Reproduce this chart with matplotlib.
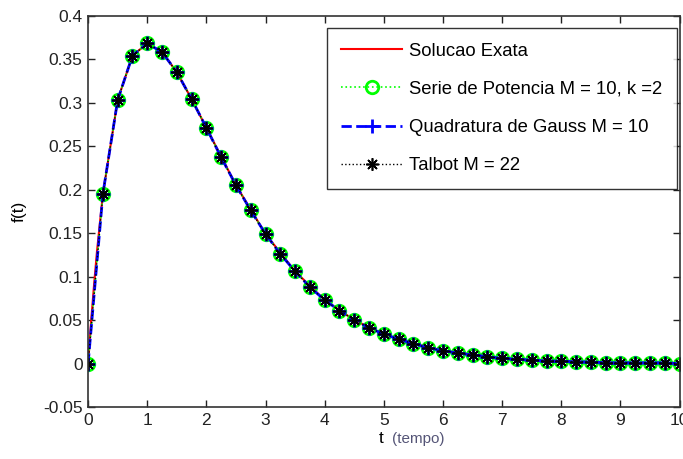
import numpy as np
import matplotlib
matplotlib.use('Agg')
import matplotlib.pyplot as plt

plt.rcParams['font.family'] = ['Liberation Sans', 'DejaVu Sans']

# sample times and values
t = [0, 0.25, 0.5, 0.75, 1, 1.25, 1.5, 1.75, 2, 2.25, 2.5, 2.75, 3, 3.25,
     3.5, 3.75, 4, 4.25, 4.5, 4.75, 5, 5.25, 5.5, 5.75, 6, 6.25, 6.5, 6.75,
     7, 7.25, 7.5, 7.75, 8, 8.25, 8.5, 8.75, 9, 9.25, 9.5, 9.75, 10]
f = [0.000, 0.195, 0.303, 0.354, 0.368, 0.358, 0.335, 0.304, 0.271, 0.237,
     0.205, 0.176, 0.149, 0.126, 0.106, 0.088, 0.073, 0.061, 0.050, 0.041,
     0.034, 0.028, 0.023, 0.018, 0.015, 0.012, 0.010, 0.008, 0.006, 0.005,
     0.004, 0.003, 0.003, 0.002, 0.002, 0.001, 0.001, 0.001, 0.001, 0.001,
     0.000]
# exact curve, a few extra points near the origin
t_ex = [0, 0.05, 0.1, 0.15, 0.25, 0.5, 0.75, 1, 1.25, 1.5, 1.75, 2, 2.5, 3,
        3.5, 4, 4.5, 5, 5.5, 6, 7, 8, 9, 10]
f_ex = [0.000, 0.048, 0.090, 0.129, 0.195, 0.303, 0.354, 0.368, 0.358,
        0.335, 0.304, 0.271, 0.205, 0.149, 0.106, 0.073, 0.050, 0.034,
        0.023, 0.015, 0.006, 0.003, 0.001, 0.000]

labels = ['Solucao Exata', 'Serie de Potencia M = 10, k =2',
          'Quadratura de Gauss M = 10', 'Talbot M = 22']

fig = plt.figure(figsize=(6.83, 4.59), dpi=100)
ax = fig.add_axes([0.129, 0.113, 0.866, 0.853])

ax.plot(t_ex, f_ex, '-', color='red', lw=1.5, label=labels[0])
ax.plot(t, f, ':', color=(0, 1, 0), lw=1.2, marker='o', ms=9, mfc='none',
        mec=(0, 1, 0), mew=2, label=labels[1])
ax.plot(t, f, '--', color='blue', lw=2, marker='+', ms=10, mew=2,
        label=labels[2])
ax.plot(t, f, ':', color='black', lw=1, marker=(8, 2, 0), ms=9, mew=1.2,
        label=labels[3])

ax.set_xlim(0, 10)
ax.set_ylim(-0.05, 0.4)
ax.set_xticks(range(0, 11))
ax.set_yticks([-0.05, 0, 0.05, 0.1, 0.15, 0.2, 0.25, 0.3, 0.35, 0.4])
ax.set_yticklabels(['-0.05', '0', '0.05', '0.1', '0.15', '0.2', '0.25',
                    '0.3', '0.35', '0.4'])
ax.tick_params(direction='in', top=True, right=True, length=5, width=1,
               labelsize=12.5, colors='#222222', pad=4)
for s in ax.spines.values():
    s.set_linewidth(1.2)
    s.set_color('#333333')

ax.set_ylabel('f(t)', fontsize=12.5, labelpad=12)
ax.text(0.5, -0.079, 't', transform=ax.transAxes, fontsize=12.5,
        ha='right', va='center')
ax.text(0.513, -0.081, '(tempo)', transform=ax.transAxes, fontsize=11,
        color='#555577', ha='left', va='center')

leg = ax.legend(loc='upper right', bbox_to_anchor=(0.995, 0.969),
                borderaxespad=0, fontsize=13.3, frameon=True, fancybox=False,
                edgecolor='black', handlelength=3.3, labelspacing=1.15,
                borderpad=0.8, handletextpad=0.35)
leg.get_frame().set_linewidth(1.0)

fig.savefig('out.png', dpi=100)
